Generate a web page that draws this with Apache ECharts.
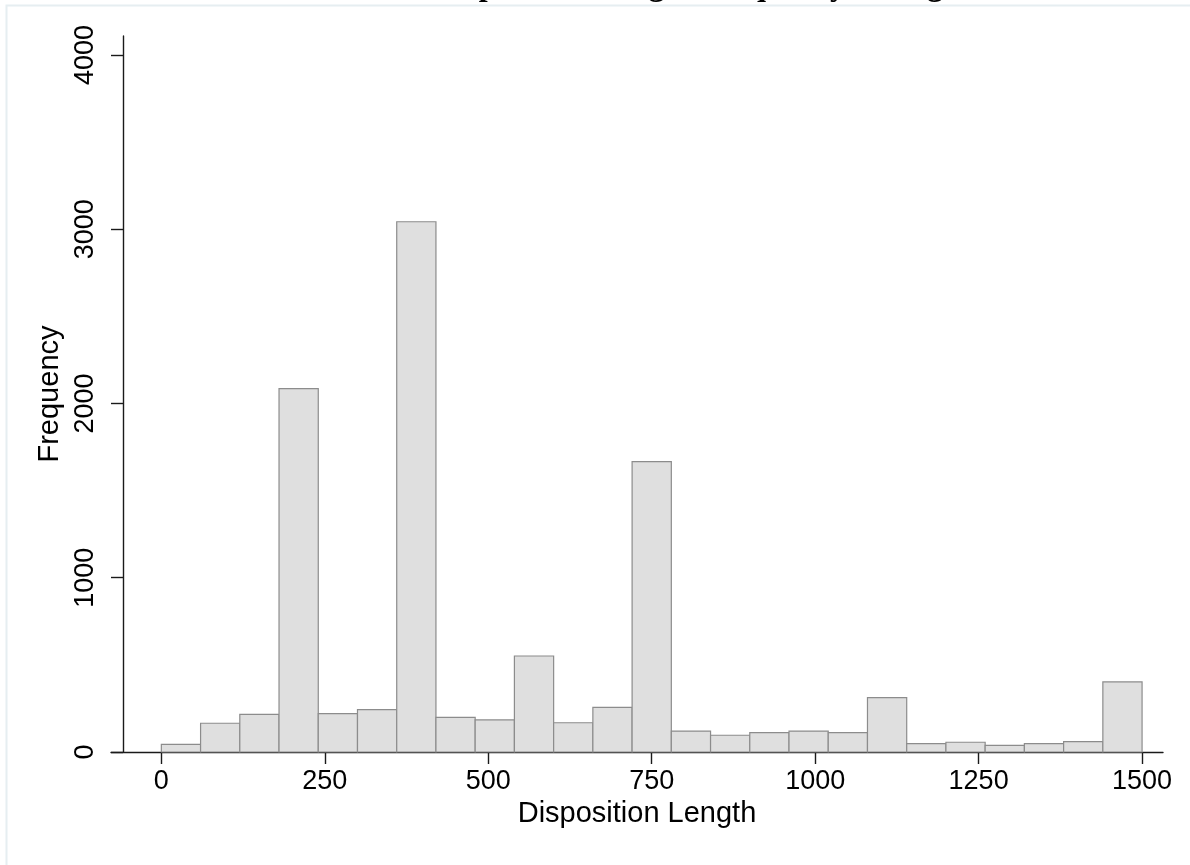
<!DOCTYPE html>
<html>
<head>
<meta charset="utf-8">
<title>Disposition Length Frequency Histogram</title>
<script src="https://cdn.jsdelivr.net/npm/echarts@6/dist/echarts.min.js"></script>
<style>
  html, body { margin: 0; padding: 0; background: #ffffff; }
  #chart { width: 1190px; height: 865px; }
</style>
</head>
<body>
<div id="chart"></div>
<script>
// Bin edges (disposition length) and the count of cases in each bin
const binEdges = [0, 60, 120, 180, 240, 300, 360, 420, 480, 540, 600, 660, 720,
                  780, 840, 900, 960, 1020, 1080, 1140, 1200, 1260, 1320, 1380, 1440, 1500];
const binCounts = [44, 165, 216, 2085, 220, 243, 3043, 199, 184, 551, 168, 256, 1666,
                   120, 96, 111, 120, 111, 312, 48, 56, 38, 48, 59, 402];

const xTickValues = [0, 250, 500, 750, 1000, 1250, 1500];
const yTickValues = [0, 1000, 2000, 3000, 4000];

const titleText = 'Disposition Length Frequency Histogram';
const xTitle = 'Disposition Length';
const yTitle = 'Frequency';

// one [start, end, count] row per histogram bin
const binRows = binCounts.map((c, i) => [binEdges[i], binEdges[i + 1], c]);

const axisColor = '#1a1a1a';
const labelFont = '"Liberation Sans", Arial, Helvetica, sans-serif';
const plainNumber = v => String(v);

const chart = echarts.init(document.getElementById('chart'), null, { renderer: 'canvas' });

chart.setOption({
  backgroundColor: '#ffffff',
  animation: false,
  graphic: [
    {
      // faint outer frame of the graph region
      type: 'rect',
      shape: { x: 6.5, y: 5.5, width: 1200, height: 900 },
      style: { fill: 'none', stroke: '#e6eef1', lineWidth: 2 },
      silent: true
    },
    {
      // title sits at the very top edge of the page
      type: 'text',
      x: 717,
      y: 3,
      style: {
        text: titleText,
        font: 'bold 32px "Liberation Serif", "Times New Roman", serif',
        fill: '#000000',
        align: 'center',
        verticalAlign: 'bottom'
      },
      silent: true
    }
  ],
  grid: { left: 111, right: 27, top: 36, bottom: 113, containLabel: false },
  xAxis: {
    type: 'value',
    min: -77,
    max: 1532,
    name: xTitle,
    nameLocation: 'middle',
    nameGap: 43,
    nameTextStyle: { fontFamily: labelFont, fontSize: 29, color: '#000' },
    axisLine: { show: true, lineStyle: { color: axisColor, width: 1.4 } },
    axisTick: { show: true, length: 12, lineStyle: { color: axisColor, width: 1.4 },
                customValues: xTickValues },
    axisLabel: { fontFamily: labelFont, fontSize: 27, color: '#000', margin: 16,
                 formatter: plainNumber, customValues: xTickValues },
    splitLine: { show: false }
  },
  yAxis: {
    type: 'value',
    min: 0,
    max: 4109,
    offset: -12,
    name: yTitle,
    nameLocation: 'middle',
    nameGap: 47,
    nameRotate: 90,
    nameTextStyle: { fontFamily: labelFont, fontSize: 29, color: '#000' },
    axisLine: { show: true, onZero: false, lineStyle: { color: axisColor, width: 1.4 } },
    axisTick: { show: true, length: 12, lineStyle: { color: axisColor, width: 1.4 },
                customValues: yTickValues },
    axisLabel: { fontFamily: labelFont, fontSize: 27, color: '#000', margin: 24,
                 rotate: 90, formatter: plainNumber, customValues: yTickValues },
    splitLine: { show: false }
  },
  series: [{
    type: 'custom',
    data: binRows,
    encode: { x: [0, 1], y: 2 },
    renderItem: function (params, api) {
      const p0 = api.coord([api.value(0), api.value(2)]);
      const p1 = api.coord([api.value(1), 0]);
      return {
        type: 'rect',
        shape: { x: p0[0], y: p0[1], width: p1[0] - p0[0], height: p1[1] - p0[1] },
        style: { fill: '#dfdfdf', stroke: '#8c8c8c', lineWidth: 1.2 }
      };
    },
    z: 1
  }]
});
</script>
</body>
</html>
